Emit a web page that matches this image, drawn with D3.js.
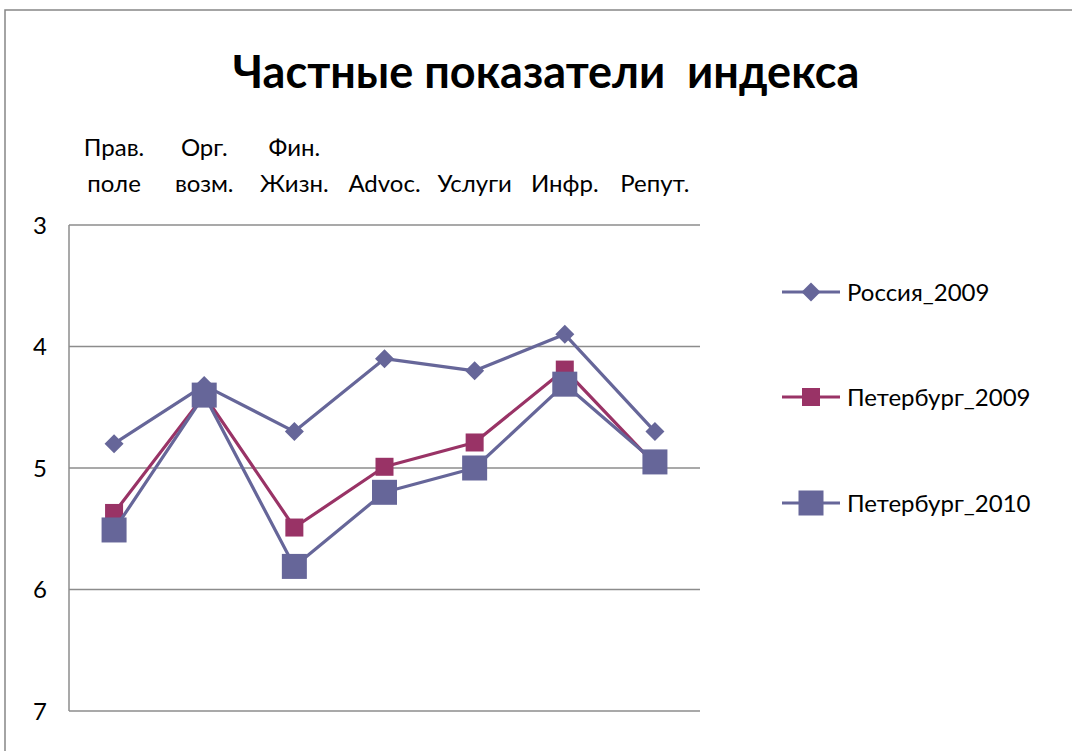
<!DOCTYPE html>
<html><head><meta charset="utf-8">
<script src="https://cdn.jsdelivr.net/npm/d3@7"></script>
<style>body{margin:0;background:#fff}svg{display:block}text{font-family:Lato,"Open Sans","Noto Sans",sans-serif}</style>
</head><body><svg id="c" width="1072" height="751"></svg>
<script>
const categoriesLine1 = ["Прав.", "Орг.", "Фин.", "", "", "", ""];
const categoriesLine2 = ["поле", "возм.", "Жизн.", "Advoc.", "Услуги", "Инфр.", "Репут."];
const seriesNames = ["Россия_2009", "Петербург_2009", "Петербург_2010"];
const russia2009 = [4.8, 4.32, 4.7, 4.1, 4.2, 3.9, 4.7];
const spb2009 = [5.37, 4.4, 5.49, 4.99, 4.79, 4.19, 4.97];
const spb2010 = [5.51, 4.4, 5.81, 5.2, 5.0, 4.31, 4.95];
const yTicks = [3, 4, 5, 6, 7];
const title = "Частные показатели  индекса";

const svg = d3.select("#c");
const W = 1072, H = 751;
const plot = {l: 69, r: 700, t: 225, b: 711};
const colors = ["#666699", "#993366", "#666699"];
const shapes = ["diamond", "square", "square"];
const msize = [19, 18, 25];
const data = [russia2009, spb2009, spb2010];

// outer border
svg.append("rect").attr("x", 5).attr("y", 10).attr("width", W).attr("height", H)
  .attr("fill", "none").attr("stroke", "#868686").attr("stroke-width", 1.5);

svg.append("text").attr("x", 546).attr("y", 88).attr("text-anchor", "middle")
  .attr("font-size", 45).attr("font-weight", "bold").attr("fill", "#000")
  .style("white-space", "pre").attr("xml:space", "preserve").text(title);

const x = d3.scaleBand().domain(d3.range(categoriesLine2.length)).range([plot.l, plot.r]);
const y = d3.scaleLinear().domain([3, 7]).range([plot.t, plot.b]);

// gridlines
svg.append("g").selectAll("line").data(yTicks).join("line")
  .attr("x1", plot.l).attr("x2", plot.r).attr("y1", d => y(d)).attr("y2", d => y(d))
  .attr("stroke", "#8c8c8c").attr("stroke-width", 1.5);
// y axis line
svg.append("line").attr("x1", plot.l).attr("x2", plot.l).attr("y1", plot.t).attr("y2", plot.b)
  .attr("stroke", "#8c8c8c").attr("stroke-width", 1.5);
// y tick labels
svg.append("g").selectAll("text").data(yTicks).join("text")
  .attr("x", 40).attr("y", d => y(d)).attr("dy", "0.36em").attr("text-anchor", "middle")
  .attr("font-size", 24).attr("fill", "#000").text(d => d);

// category labels
const cx = i => x(i) + x.bandwidth() / 2;
svg.append("g").selectAll("text").data(categoriesLine1).join("text")
  .attr("x", (d, i) => cx(i)).attr("y", 156).attr("text-anchor", "middle")
  .attr("font-size", 24).attr("fill", "#000").text(d => d);
svg.append("g").selectAll("text").data(categoriesLine2).join("text")
  .attr("x", (d, i) => cx(i)).attr("y", 192).attr("text-anchor", "middle")
  .attr("font-size", 24).attr("fill", "#000").text(d => d);

function marker(g, shape, size, color, px, py) {
  if (shape === "diamond") {
    const h = size / 2;
    g.append("path").attr("d", `M${px},${py - h}L${px + h},${py}L${px},${py + h}L${px - h},${py}Z`).attr("fill", color);
  } else {
    g.append("rect").attr("x", px - size / 2).attr("y", py - size / 2).attr("width", size).attr("height", size).attr("fill", color);
  }
}

const line = d3.line().x((d, i) => cx(i)).y(d => y(d));
data.forEach((vals, s) => {
  const g = svg.append("g");
  g.append("path").datum(vals).attr("d", line).attr("fill", "none")
    .attr("stroke", colors[s]).attr("stroke-width", 3.2).attr("stroke-linejoin", "round");
  vals.forEach((v, i) => marker(g, shapes[s], msize[s], colors[s], cx(i), y(v)));
});

// legend
const legY = [292, 397, 503];
seriesNames.forEach((n, s) => {
  const g = svg.append("g");
  g.append("line").attr("x1", 782).attr("x2", 840).attr("y1", legY[s]).attr("y2", legY[s])
    .attr("stroke", colors[s]).attr("stroke-width", 3.2);
  marker(g, shapes[s], msize[s], colors[s], 811, legY[s]);
  g.append("text").attr("x", 847).attr("y", legY[s]).attr("dy", "0.36em")
    .attr("font-size", 24).attr("fill", "#000").text(n);
});
</script></body></html>
